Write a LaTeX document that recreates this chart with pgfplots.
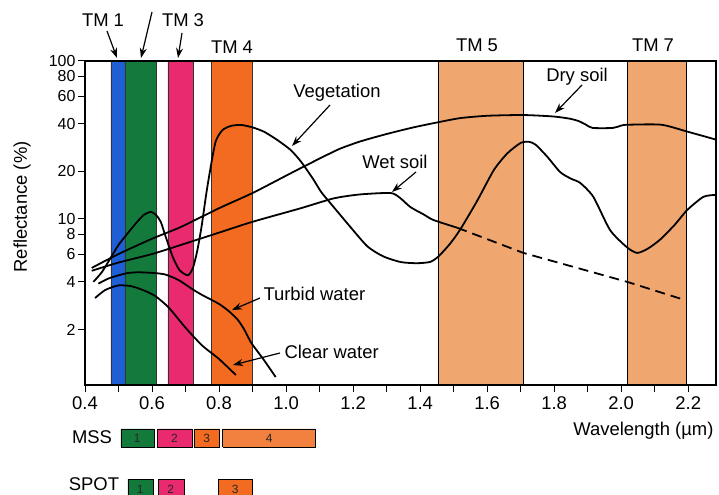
\documentclass[border=0pt]{standalone}
\usepackage{fontspec}
\setmainfont{Liberation Sans}
\usepackage{pgfplots}
\pgfplotsset{compat=1.18}
\usetikzlibrary{arrows.meta}
\definecolor{tmblue}{HTML}{1F5FD5}
\definecolor{tmgreen}{HTML}{137A3C}
\definecolor{tmpink}{HTML}{EA2A6F}
\definecolor{tmorange}{HTML}{F26B21}
\definecolor{tmlight}{HTML}{F0A66F}
\definecolor{msslight}{HTML}{F2803F}
\begin{document}
\begin{tikzpicture}[x=1bp,y=1bp]
\useasboundingbox (0,0) rectangle (719,495);
\begin{axis}[
  at={(85bp,110bp)}, anchor=south west,
  scale only axis, width=631bp, height=324bp,
  xmin=0.4, xmax=2.283, ymode=log, ymin=0.89, ymax=100,
  clip=false, axis on top,
  axis line style={line width=1.2pt},
  xtick={0.4,0.5,0.6,0.7,0.8,0.9,1.0,1.1,1.2,1.3,1.4,1.5,1.6,1.7,1.8,1.9,2.0,2.1,2.2},
  xticklabels={0.4,,0.6,,0.8,,1.0,,1.2,,1.4,,1.6,,1.8,,2.0,,2.2},
  ytick={2,4,6,8,10,20,40,60,80,100},
  yticklabels={2,4,6,8,10,20,40,60,80,100},
  minor ytick={}, 
  tick align=outside, xtick pos=bottom, ytick pos=left,
  major tick length=7bp,
  tick style={line width=1pt, black},
  xticklabel style={font=\fontsize{18.5}{20}\selectfont, yshift=-1bp},
  yticklabel style={font=\fontsize{16}{16}\selectfont, inner ysep=0pt, xshift=1bp},
]
% TM bands
\addplot[fill=tmblue, draw=black!80, line width=0.5pt] coordinates {(0.477,0.89) (0.477,100) (0.519,100) (0.519,0.89) (0.477,0.89)};
\addplot[fill=tmgreen, draw=black!80, line width=0.5pt] coordinates {(0.519,0.89) (0.519,100) (0.612,100) (0.612,0.89) (0.519,0.89)};
\addplot[fill=tmpink, draw=black!80, line width=0.5pt] coordinates {(0.647,0.89) (0.647,100) (0.722,100) (0.722,0.89) (0.647,0.89)};
\addplot[fill=tmorange, draw=black!80, line width=0.5pt] coordinates {(0.778,0.89) (0.778,100) (0.90,100) (0.90,0.89) (0.778,0.89)};
\addplot[fill=tmlight, draw=black, line width=0.8pt] coordinates {(1.455,0.89) (1.455,100) (1.708,100) (1.708,0.89) (1.455,0.89)};
\addplot[fill=tmlight, draw=black, line width=0.8pt] coordinates {(2.018,0.89) (2.018,100) (2.194,100) (2.194,0.89) (2.018,0.89)};
% MSS bands
\addplot[fill=tmgreen, draw=black, line width=0.6pt] coordinates {(0.507,0.36) (0.507,0.469) (0.606,0.469) (0.606,0.36) (0.507,0.36)};
\addplot[fill=tmpink, draw=black, line width=0.6pt] coordinates {(0.615,0.36) (0.615,0.469) (0.719,0.469) (0.719,0.36) (0.615,0.36)};
\addplot[fill=tmorange, draw=black, line width=0.6pt] coordinates {(0.725,0.36) (0.725,0.469) (0.802,0.469) (0.802,0.36) (0.725,0.36)};
\addplot[fill=msslight, draw=black, line width=0.6pt] coordinates {(0.811,0.36) (0.811,0.469) (1.088,0.469) (1.088,0.36) (0.811,0.36)};
% SPOT bands
\addplot[fill=tmgreen, draw=black, line width=0.6pt] coordinates {(0.528,0.166) (0.528,0.226) (0.603,0.226) (0.603,0.166) (0.528,0.166)};
\addplot[fill=tmpink, draw=black, line width=0.6pt] coordinates {(0.618,0.166) (0.618,0.226) (0.695,0.226) (0.695,0.166) (0.618,0.166)};
\addplot[fill=tmorange, draw=black, line width=0.6pt] coordinates {(0.799,0.166) (0.799,0.226) (0.898,0.226) (0.898,0.166) (0.799,0.166)};
\node[font=\fontsize{12}{12}\selectfont, text=black!85] at (axis cs:0.556,0.411) {1};
\node[font=\fontsize{12}{12}\selectfont, text=black!85] at (axis cs:0.667,0.411) {2};
\node[font=\fontsize{12}{12}\selectfont, text=black!85] at (axis cs:0.763,0.411) {3};
\node[font=\fontsize{12}{12}\selectfont, text=black!85] at (axis cs:0.95,0.411) {4};
\node[font=\fontsize{12}{12}\selectfont, text=black!85] at (axis cs:0.565,0.194) {1};
\node[font=\fontsize{12}{12}\selectfont, text=black!85] at (axis cs:0.656,0.194) {2};
\node[font=\fontsize{12}{12}\selectfont, text=black!85] at (axis cs:0.848,0.194) {3};
% Vegetation
\addplot[black, line width=1.8pt, smooth, tension=0.4] coordinates {
(0.425,4.0) (0.45,4.6) (0.475,5.6) (0.50,6.85) (0.525,8.0) (0.552,9.4) (0.575,10.6) (0.597,11.1)
(0.612,10.6) (0.626,9.6) (0.641,7.7) (0.662,5.75) (0.682,4.75) (0.707,4.4) (0.722,4.9) (0.735,6.3)
(0.748,9.0) (0.762,14.5) (0.775,21.3) (0.79,31) (0.81,36.5) (0.835,38.8) (0.865,39.4) (0.90,38)
(0.935,35.6) (0.975,31.5) (1.014,27.3) (1.045,23) (1.08,18) (1.105,14.8) (1.135,12.4) (1.19,9.0)
(1.243,6.7) (1.29,5.8) (1.342,5.34) (1.39,5.25) (1.43,5.35) (1.455,5.8) (1.49,7.0) (1.52,8.6)
(1.57,13.0) (1.62,20.4) (1.66,26) (1.70,30.3) (1.725,30.8) (1.745,29.5) (1.78,24.7) (1.818,19.8)
(1.85,18.0) (1.878,16.9) (1.917,13.8) (1.967,8.5) (2.018,6.6) (2.048,6.1) (2.08,6.5) (2.116,7.4)
(2.16,9.2) (2.197,11.4) (2.245,13.8) (2.28,14.2)};
% Dry soil
\addplot[black, line width=1.8pt, smooth, tension=0.4] coordinates {
(0.42,4.9) (0.5,6.0) (0.6,7.5) (0.686,8.9) (0.8,11.7) (0.9,14.6) (1.0,18.8) (1.044,21) (1.103,24.3)
(1.16,27.8) (1.222,31.0) (1.3,34.5) (1.38,38) (1.455,41) (1.52,43.5) (1.6,45) (1.708,45.5) (1.80,44.5)
(1.85,43) (1.875,41.5) (1.895,39.5) (1.915,37.7) (1.975,37.7) (2.0,39) (2.02,39.5) (2.12,39.5)
(2.2,35.6) (2.283,31.8)};
% Wet soil (solid)
\addplot[black, line width=1.8pt, smooth, tension=0.4] coordinates {
(0.42,4.7) (0.5,5.3) (0.6,6.0) (0.686,6.85) (0.8,8.2) (0.9,9.6) (1.044,11.7) (1.142,13.5)
(1.22,14.3) (1.312,14.6) (1.34,13.6) (1.371,11.9) (1.41,10.7) (1.44,9.85) (1.511,8.8)};
% Wet soil (dashed)
\addplot[black, line width=1.8pt, dash pattern=on 10bp off 6bp] coordinates {
(1.511,8.8) (1.708,6.1) (2.018,4.0) (2.19,3.07)};
% Turbid water
\addplot[black, line width=1.8pt, smooth, tension=0.4] coordinates {
(0.44,3.9) (0.47,4.2) (0.50,4.4) (0.528,4.55) (0.56,4.6) (0.606,4.55) (0.64,4.45) (0.68,4.1)
(0.72,3.6) (0.75,3.3) (0.80,2.9) (0.83,2.6) (0.856,2.3) (0.875,2.0) (0.895,1.66) (0.915,1.45)
(0.934,1.28) (0.969,1.0)};
% Clear water
\addplot[black, line width=1.8pt, smooth, tension=0.4] coordinates {
(0.43,3.16) (0.46,3.55) (0.50,3.8) (0.54,3.75) (0.58,3.5) (0.61,3.25) (0.65,2.75) (0.70,2.05)
(0.75,1.58) (0.80,1.3) (0.85,1.03)};
\end{axis}
\begin{scope}[font=\fontsize{18.5}{20}\selectfont]
\node at (103,475) {TM 1};
\node at (183,475) {TM 3};
\node at (232,448) {TM 4};
\node at (477,450) {TM 5};
\node at (653,450) {TM 7};
\node[rotate=90] at (22,288) {Reflectance (\%)};
\node[anchor=east] at (717,64) {Wavelength (µm)};
\node at (92,58) {MSS};
\node at (94,11) {SPOT};
\node at (337,402) {Vegetation};
\node at (395,333) {Wet soil};
\node at (577,418) {Dry soil};
\node[anchor=west] at (260,201) {Turbid water};
\node[anchor=west] at (281,143) {Clear water};
\end{scope}
\begin{scope}[line width=1.2pt, -{Stealth[length=10bp,width=7bp]}]
\draw (107,464) -- (117,437);
\draw (152,483) -- (141,437);
\draw (182,462) -- (178,437);
\draw (330,390) -- (292,349);
\draw (416,323) -- (392,303);
\draw (582,410) -- (555,382);
\draw (260,197) -- (232,185);
\draw (280,142) -- (233,130);
\end{scope}
\end{tikzpicture}
\end{document}
